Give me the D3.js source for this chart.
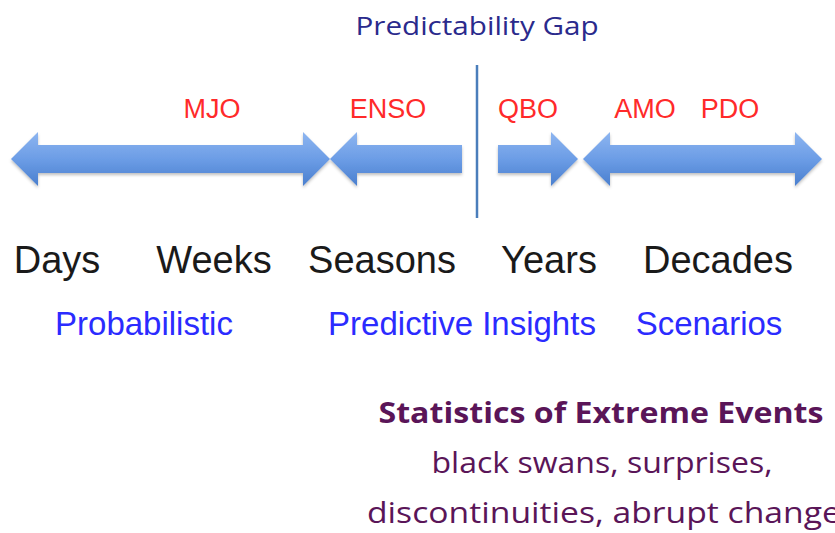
<!DOCTYPE html>
<html><head><meta charset="utf-8">
<script src="https://cdn.jsdelivr.net/npm/d3@7"></script>
<style>html,body{margin:0;padding:0;background:#fff;}svg{display:block;}</style>
</head><body>
<script>
// ---- data ----
const timescales = ["Days", "Weeks", "Seasons", "Years", "Decades"];
const timescalePos = [57, 214, 382, 549, 718];
const modes = ["MJO", "ENSO", "QBO", "AMO", "PDO"];
const modePos = [212, 388, 528, 645, 730];
const approaches = ["Probabilistic", "Predictive Insights", "Scenarios"];
const approachPos = [144, 462, 709];
// arrows: [start, end, headAtStart, headAtEnd]
const arrowStart = [11, 330, 498, 583];
const arrowEnd = [330, 462, 578, 822];
const arrowHeadStart = [true, true, false, true];
const arrowHeadEnd = [true, false, true, true];
const gapPos = 477;
const extremeTitle = "Statistics of Extreme Events";
const extremeLines = ["black swans, surprises,", "discontinuities, abrupt changes"];

const W = 835, H = 533;
const x = d3.scaleLinear().domain([0, W]).range([0, W]);
const svg = d3.select("body").append("svg").attr("width", W).attr("height", H);

const defs = svg.append("defs");
const g = defs.append("linearGradient").attr("id", "ag").attr("x1", 0).attr("y1", 0).attr("x2", 0).attr("y2", 1);
g.append("stop").attr("offset", "0%").attr("stop-color", "#8db5f0");
g.append("stop").attr("offset", "50%").attr("stop-color", "#6c9de6");
g.append("stop").attr("offset", "100%").attr("stop-color", "#4a7fce");
const f = defs.append("filter").attr("id", "sh").attr("x", "-5%").attr("y", "-20%").attr("width", "110%").attr("height", "150%");
f.append("feDropShadow").attr("dx", 0).attr("dy", 2).attr("stdDeviation", 1.5).attr("flood-color", "#000").attr("flood-opacity", 0.25);

const cy = 159, shaftH = 14, headH = 27, headL = 27;
function arrowPath(i) {
  const a = x(arrowStart[i]), b = x(arrowEnd[i]);
  const p = [];
  if (arrowHeadStart[i]) {
    p.push([a, cy], [a + headL, cy - headH], [a + headL, cy - shaftH]);
  } else {
    p.push([a, cy - shaftH]);
  }
  if (arrowHeadEnd[i]) {
    p.push([b - headL, cy - shaftH], [b - headL, cy - headH], [b, cy], [b - headL, cy + headH], [b - headL, cy + shaftH]);
  } else {
    p.push([b, cy - shaftH], [b, cy + shaftH]);
  }
  if (arrowHeadStart[i]) {
    p.push([a + headL, cy + shaftH], [a + headL, cy + headH]);
  } else {
    p.push([a, cy + shaftH]);
  }
  return "M" + p.map(d => d.join(",")).join("L") + "Z";
}
svg.append("g").selectAll("path").data(arrowStart).join("path")
  .attr("d", (d, i) => arrowPath(i))
  .attr("fill", "url(#ag)")
  .attr("filter", "url(#sh)");

svg.append("line").attr("x1", x(gapPos)).attr("x2", x(gapPos)).attr("y1", 65).attr("y2", 218)
  .attr("stroke", "#4a7ebb").attr("stroke-width", 2.5);

svg.append("text").attr("x", x(gapPos)).attr("y", 35).attr("text-anchor", "middle")
  .attr("font-family", "'Open Sans', 'Noto Sans', sans-serif").attr("font-size", 25)
  .attr("fill", "#2a2a8c").attr("textLength", 243).attr("lengthAdjust", "spacingAndGlyphs")
  .text("Predictability Gap");

svg.append("g").selectAll("text").data(modes).join("text")
  .attr("x", (d, i) => x(modePos[i])).attr("y", 118).attr("text-anchor", "middle")
  .attr("font-family", "'Liberation Sans', Arial, sans-serif").attr("font-size", 27)
  .attr("fill", "#ff2a2a").text(d => d);

svg.append("g").selectAll("text").data(timescales).join("text")
  .attr("x", (d, i) => x(timescalePos[i])).attr("y", 273).attr("text-anchor", "middle")
  .attr("font-family", "'Liberation Sans', Arial, sans-serif").attr("font-size", 38)
  .attr("fill", "#1a1a1a").text(d => d);

svg.append("g").selectAll("text").data(approaches).join("text")
  .attr("x", (d, i) => x(approachPos[i])).attr("y", 335).attr("text-anchor", "middle")
  .attr("font-family", "'Liberation Sans', Arial, sans-serif").attr("font-size", 33)
  .attr("fill", "#2b2bff").text(d => d);

svg.append("text").attr("x", 601).attr("y", 423).attr("text-anchor", "middle")
  .attr("font-family", "'Open Sans', 'Noto Sans', sans-serif").attr("font-size", 29).attr("font-weight", "bold")
  .attr("fill", "#5a1558").attr("textLength", 445).attr("lengthAdjust", "spacingAndGlyphs")
  .text(extremeTitle);

const lineLens = [341, 490];
const lineX = [602, 367];
const lineY = [473, 523];
svg.append("g").selectAll("text").data(extremeLines).join("text")
  .attr("x", (d, i) => lineX[i]).attr("y", (d, i) => lineY[i])
  .attr("text-anchor", (d, i) => i === 0 ? "middle" : "start")
  .attr("font-family", "'Open Sans', 'Noto Sans', sans-serif").attr("font-size", 29)
  .attr("fill", "#5a1558").attr("textLength", (d, i) => lineLens[i]).attr("lengthAdjust", "spacingAndGlyphs")
  .text(d => d);
</script>
</body></html>
